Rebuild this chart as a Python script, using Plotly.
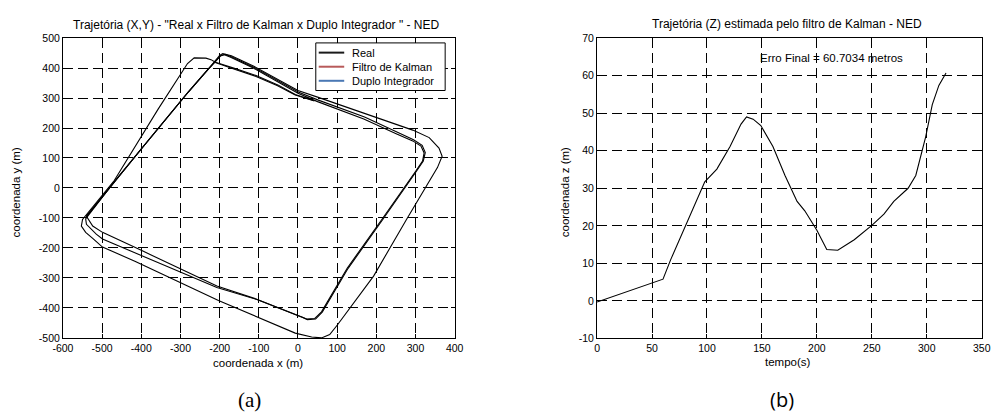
import plotly.graph_objects as go

# ---------------- (a) horizontal trajectory, NED frame ----------------
real_x = [-540, -500, -460, -400, -340, -280, -230, -210, -198, -188, -172, -114, -50, 0, 50, 168, 252, 293, 314, 322, 318, 300, 214, 126, 60, 43, 22, 10, -107, -207, -400, -499, -524, -532, -540,
          -500, -460, -400, -340, -280, -230, -212, -160, -107, -50, -7, 40]
real_y = [-95, -30, 35, 130, 225, 320, 395, 425, 440, 444, 436, 400, 352, 316, 288, 230, 180, 157, 140, 117, 90, 55, -105, -267, -413, -435, -437, -430, -370, -327, -208, -148, -127, -110, -94,
          -30, 35, 130, 225, 320, 395, 420, 398, 375, 343, 312, 292]

kalman_x = [-540, -501, -461, -401, -341, -281, -231, -210, -197, -186, -170, -112, -48, 2, 52, 170, 254, 295, 317, 325, 320, 302, 216, 128, 62, 45, 24, 12, -105, -207, -400, -499, -515, -528, -540, -542,
            -500, -461, -401, -341, -281, -231, -213, -162, -107, -52, -7, 42]
kalman_y = [-95, -31, 34, 129, 224, 319, 394, 426, 442, 446, 438, 402, 354, 319, 293, 237, 186, 161, 142, 118, 90, 55, -106, -268, -414, -437, -439, -432, -372, -332, -225, -170, -154, -137, -121, -103,
            -31, 34, 129, 224, 319, 394, 419, 396, 372, 341, 310, 290]

duplo_x = [-540, -500, -460, -400, -340, -280, -230, -210, -200, -192, -170, -114, -50, 0, 50, 168, 293, 335, 360, 368, 356, 277, 193, 101, 81, 60, 35, -7, -203, -415, -499, -524, -542, -553, -550,
           -469, -407, -357, -282, -265, -235, -222, -212]
duplo_y = [-95, -30, 35, 130, 225, 320, 395, 428, 442, 448, 441, 407, 360, 325, 303, 249, 193, 168, 133, 106, 68, -105, -294, -456, -489, -500, -497, -484, -375, -245, -197, -168, -148, -127, -105,
           25, 155, 263, 415, 434, 433, 428, 420]

xy_x_ticks = [-600, -500, -400, -300, -200, -100, 0, 100, 200, 300, 400]
xy_x_labels = ["-600", "-500", "-400", "-300", "-200", "-100", "0", "100", "200", "300", "400"]
xy_y_ticks = [-500, -400, -300, -200, -100, 0, 100, 200, 300, 400, 500]
xy_y_labels = ["-500", "-400", "-300", "-200", "-100", "0", "100", "200", "300", "400", "500"]

series_names = ["Real", "Filtro de Kalman", "Duplo Integrador"]
series_colors = ["#1a1a1a", "#b85a5a", "#4a78b4"]

# ---------------- (b) vertical coordinate estimated by the Kalman filter ----------------
tempo = [0, 5, 20, 43, 52, 60, 67, 80, 90, 98, 109, 121, 131, 136, 142, 149, 160, 171, 182, 189, 200, 209, 219, 234, 250, 261, 270, 283, 290, 299, 305, 311, 317.5]
coord_z = [-0.3, 0.2, 1.8, 4.1, 4.9, 5.8, 11.0, 19.7, 26.5, 31.7, 35.1, 41.1, 47.1, 49.0, 48.4, 46.7, 41.1, 33.4, 26.5, 24.0, 18.8, 13.7, 13.5, 16.3, 20.1, 23.1, 26.5, 30.0, 33.4, 43.7, 52.3, 57.4, 60.7034]

z_t_ticks = [0, 50, 100, 150, 200, 250, 300, 350]
z_t_labels = ["0", "50", "100", "150", "200", "250", "300", "350"]
z_ticks = [-10, 0, 10, 20, 30, 40, 50, 60, 70]
z_labels = ["-10", "0", "10", "20", "30", "40", "50", "60", "70"]

erro_final = 60.7034

W, H = 1002, 419
SANS = "Liberation Sans, Arial, sans-serif"
TICKFONT = dict(family=SANS, size=10.5, color="black")
LINE = dict(color="black", width=1.1)

fig = go.Figure()

# trajectory curves (printed dark); the legend box carries the series colours
for name, xs, ys in zip(series_names, [real_x, kalman_x, duplo_x], [real_y, kalman_y, duplo_y]):
    fig.add_trace(go.Scatter(x=xs, y=ys, mode="lines", name=name, line=LINE, showlegend=False,
                             xaxis="x", yaxis="y"))

fig.add_trace(go.Scatter(x=tempo, y=coord_z, mode="lines", name="z", line=LINE, showlegend=False,
                         xaxis="x2", yaxis="y2"))

def axis(rng, ticks, labels, domain, anchor):
    return dict(range=rng, tickvals=ticks, ticktext=labels, domain=domain, anchor=anchor,
                showline=True, linecolor="black", linewidth=1, mirror="ticks",
                ticks="inside", ticklen=4, tickcolor="black", tickwidth=1,
                showgrid=True, gridcolor="black", gridwidth=1, griddash="10px,5px",
                zeroline=False, tickfont=TICKFONT, fixedrange=True)

fig.update_layout(
    width=W, height=H, margin=dict(l=0, r=0, t=0, b=0),
    paper_bgcolor="white", plot_bgcolor="white", showlegend=False,
    xaxis=axis([-600, 400], xy_x_ticks, xy_x_labels, [53 / W, 452.7 / W], "y"),
    yaxis=axis([-500, 500], xy_y_ticks, xy_y_labels, [1 - 341.7 / H, 1 - 33 / H], "x"),
    xaxis2=axis([0, 350], z_t_ticks, z_t_labels, [598 / W, 990.5 / W], "y2"),
    yaxis2=axis([-10, 70], z_ticks, z_labels, [1 - 342.3 / H, 1 - 33 / H], "x2"),
)

# legend box in the upper right of panel (a)
LX0, LX1, LY0, LY1 = 311, 443, 38, 87
fig.add_shape(type="rect", xref="paper", yref="paper", x0=LX0 / W, x1=LX1 / W,
              y0=1 - LY1 / H, y1=1 - LY0 / H, line=dict(color="black", width=1),
              fillcolor="white", layer="above")
for i, (name, col) in enumerate(zip(series_names, series_colors)):
    yr = 48 + i * 14.5
    fig.add_shape(type="line", xref="paper", yref="paper", x0=314 / W, x1=340 / W,
                  y0=1 - yr / H, y1=1 - yr / H, line=dict(color=col, width=2), layer="above")
    fig.add_annotation(xref="paper", yref="paper", x=346 / W, y=1 - yr / H, text=name,
                       showarrow=False, xanchor="left", yanchor="middle",
                       font=dict(family=SANS, size=11, color="black"))

ann_font = dict(family=SANS, size=11.5, color="black")
title_font = dict(family=SANS, size=12, color="black")
texts = [
    dict(text='Trajetória (X,Y) - "Real x Filtro de Kalman x Duplo Integrador " - NED', x=250 / W, y=1 - 20 / H, font=title_font),
    dict(text="Trajetória (Z) estimada pelo filtro de Kalman - NED", x=792 / W, y=1 - 19 / H, font=title_font),
    dict(text="coordenada x (m)", x=252 / W, y=1 - 368 / H, font=ann_font),
    dict(text="tempo(s)", x=793 / W, y=1 - 366 / H, font=ann_font),
]
for t in texts:
    fig.add_annotation(xref="paper", yref="paper", showarrow=False,
                       xanchor="center", yanchor="middle", **t)
for t, xp in [("coordenada y (m)", 5), ("coordenada z (m)", 565)]:
    fig.add_annotation(xref="paper", yref="paper", x=xp / W, y=1 - 192 / H, text=t, textangle=-90,
                       showarrow=False, font=ann_font, xanchor="center", yanchor="middle")

fig.add_annotation(xref="x2", yref="y2", x=213, y=64.6, text=f"Erro Final = {erro_final} metros",
                   showarrow=False, font=ann_font, xanchor="center", yanchor="middle")

fig.add_annotation(xref="paper", yref="paper", x=243 / W, y=1 - 406 / H, text="(a)", showarrow=False,
                   font=dict(family="Liberation Serif, Times New Roman, serif", size=21, color="black"),
                   xanchor="center", yanchor="middle")
fig.add_annotation(xref="paper", yref="paper", x=787 / W, y=1 - 405 / H, text="(b)", showarrow=False,
                   font=dict(family="Open Sans, sans-serif", size=20, color="black"),
                   xanchor="center", yanchor="middle")

fig.write_html("out.html")
